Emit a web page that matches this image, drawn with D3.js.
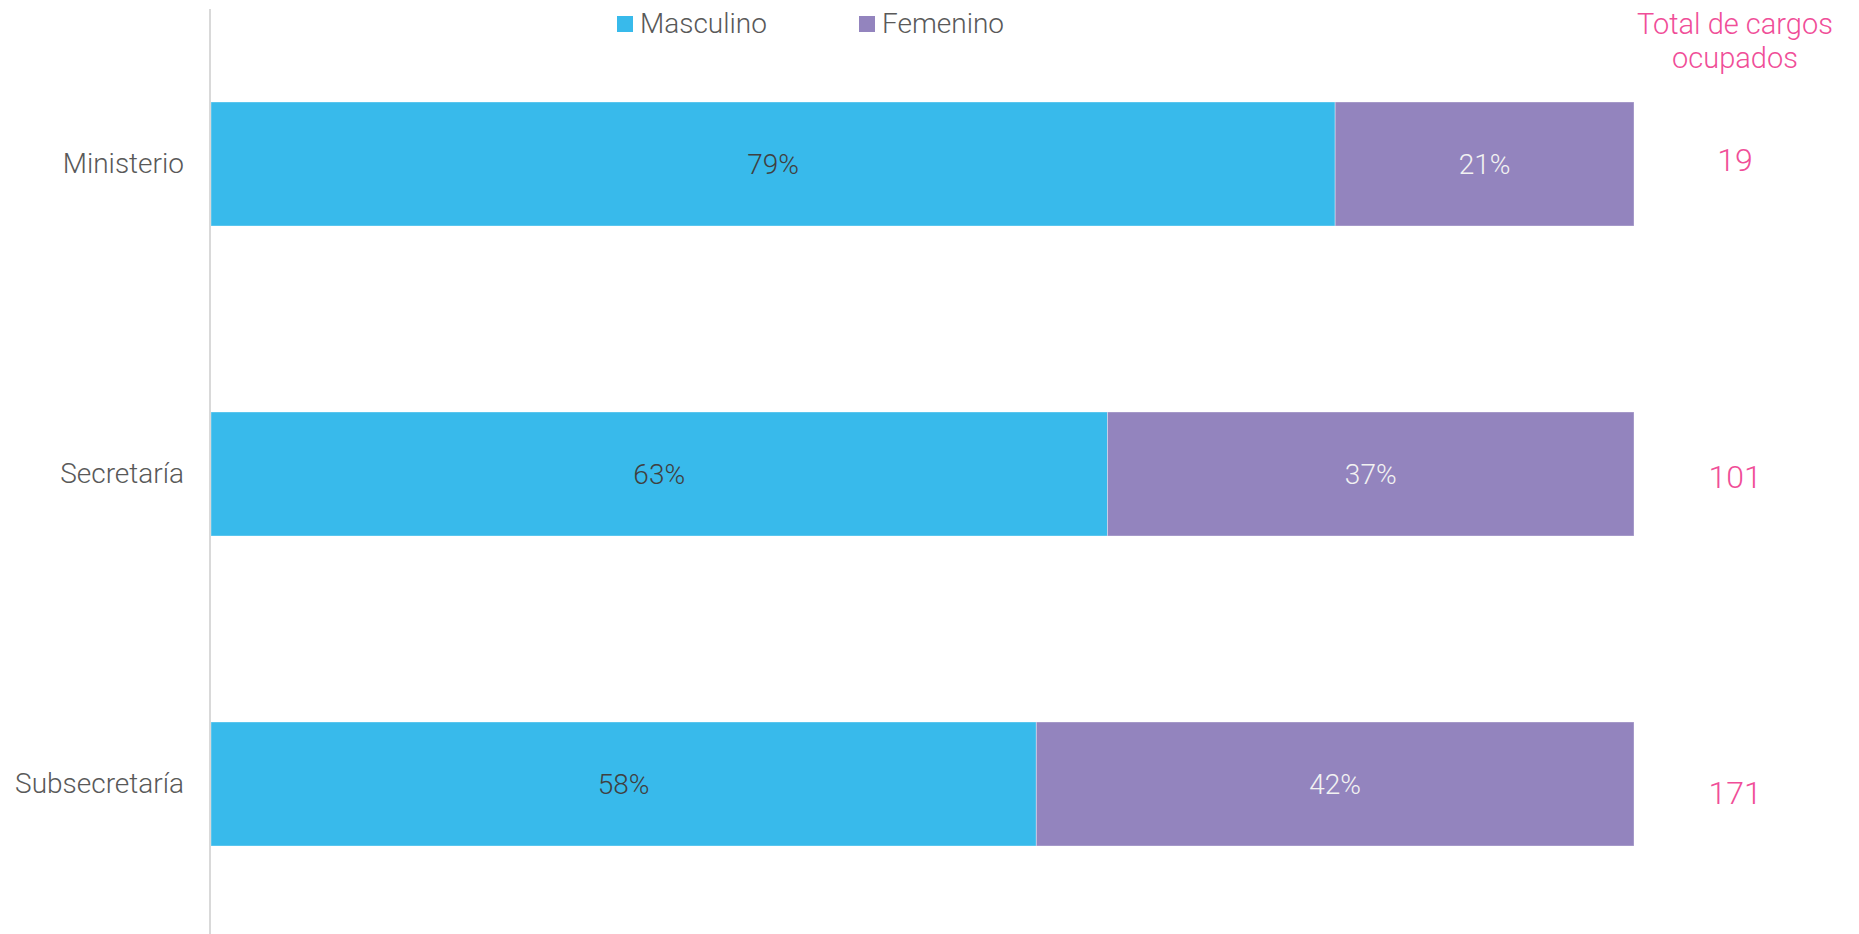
<!DOCTYPE html>
<html>
<head>
<meta charset="utf-8">
<script src="https://cdn.jsdelivr.net/npm/d3@7"></script>
<style>
  html, body { margin: 0; padding: 0; background: #fff; }
  svg text { font-family: "Roboto Light", Roboto, "Open Sans", sans-serif; font-weight: 300; }
</style>
</head>
<body>
<div id="chart"></div>
<script>
// chart data
const categories = ['Ministerio', 'Secretaría', 'Subsecretaría'];
const masculino = [79, 63, 58];
const femenino = [21, 37, 42];
const totals = [19, 101, 171];
const seriesNames = ['Masculino', 'Femenino'];
const totalTitle = ['Total de cargos', 'ocupados'];

const width = 1859;
const height = 934;
const colors = { Masculino: '#38BAEB', Femenino: '#9384BE' };
const pink = '#F04E98';

const svg = d3.select('#chart')
  .append('svg')
  .attr('width', width)
  .attr('height', height);

const x = d3.scaleLinear().domain([0, 100]).range([211, 1634]);
const y = d3.scaleBand().domain(categories).range([9, 939]).paddingInner(0.6).paddingOuter(0.3);
const yTotals = d3.scalePoint().domain(categories).range([160, 793]);

// stacked data
const rows = categories.map((c, i) => ({ cat: c, Masculino: masculino[i], Femenino: femenino[i] }));
const stack = d3.stack().keys(seriesNames)(rows);

const layers = svg.append('g')
  .selectAll('g')
  .data(stack)
  .enter().append('g')
  .attr('fill', d => colors[d.key]);

layers.selectAll('rect')
  .data(d => d)
  .enter().append('rect')
  .attr('x', d => x(d[0]))
  .attr('y', d => y(d.data.cat))
  .attr('width', d => x(d[1]) - x(d[0]))
  .attr('height', y.bandwidth())
  .attr('stroke', 'rgba(255,255,255,0.35)')
  .attr('stroke-width', 1);

// value labels
layers.each(function(layer) {
  d3.select(this).selectAll('text')
    .data(layer)
    .enter().append('text')
    .attr('x', d => (x(d[0]) + x(d[1])) / 2)
    .attr('y', d => y(d.data.cat) + y.bandwidth() / 2)
    .attr('text-anchor', 'middle')
    .attr('dominant-baseline', 'central')
    .attr('font-size', 28)
    .attr('fill', layer.key === 'Masculino' ? '#404040' : '#F2F2F2')
    .text(d => (d[1] - d[0]) + '%');
});

// y axis labels
const yAxis = d3.axisLeft(y).tickSize(0).tickPadding(26);
const axisG = svg.append('g')
  .attr('transform', `translate(${x(0) - 1},0)`)
  .call(yAxis);
axisG.select('.domain').remove();
axisG.selectAll('text')
  .attr('font-size', 28)
  .attr('fill', '#595959')
  .attr('font-family', '"Roboto Light", Roboto, sans-serif');

svg.append('line')
  .attr('x1', x(0) - 1).attr('x2', x(0) - 1)
  .attr('y1', 9).attr('y2', height)
  .attr('stroke', '#D9D9D9')
  .attr('stroke-width', 2);

// legend
const legend = svg.append('g')
  .selectAll('g')
  .data(seriesNames)
  .enter().append('g')
  .attr('transform', (d, i) => `translate(${617 + i * 242},0)`);

legend.append('rect')
  .attr('x', 0).attr('y', 16)
  .attr('width', 16).attr('height', 16)
  .attr('fill', d => colors[d]);

legend.append('text')
  .attr('x', 23).attr('y', 33)
  .attr('font-size', 28)
  .attr('fill', '#595959')
  .text(d => d);

// totals column
svg.append('g')
  .selectAll('text')
  .data(totalTitle)
  .enter().append('text')
  .attr('x', 1735)
  .attr('y', (d, i) => 34 + i * 34)
  .attr('text-anchor', 'middle')
  .attr('font-size', 29)
  .attr('fill', pink)
  .text(d => d);

svg.append('g')
  .selectAll('text')
  .data(categories)
  .enter().append('text')
  .attr('x', 1735)
  .attr('y', d => yTotals(d))
  .attr('text-anchor', 'middle')
  .attr('dominant-baseline', 'central')
  .attr('font-size', 32)
  .attr('fill', pink)
  .text((d, i) => totals[i]);
</script>
</body>
</html>
